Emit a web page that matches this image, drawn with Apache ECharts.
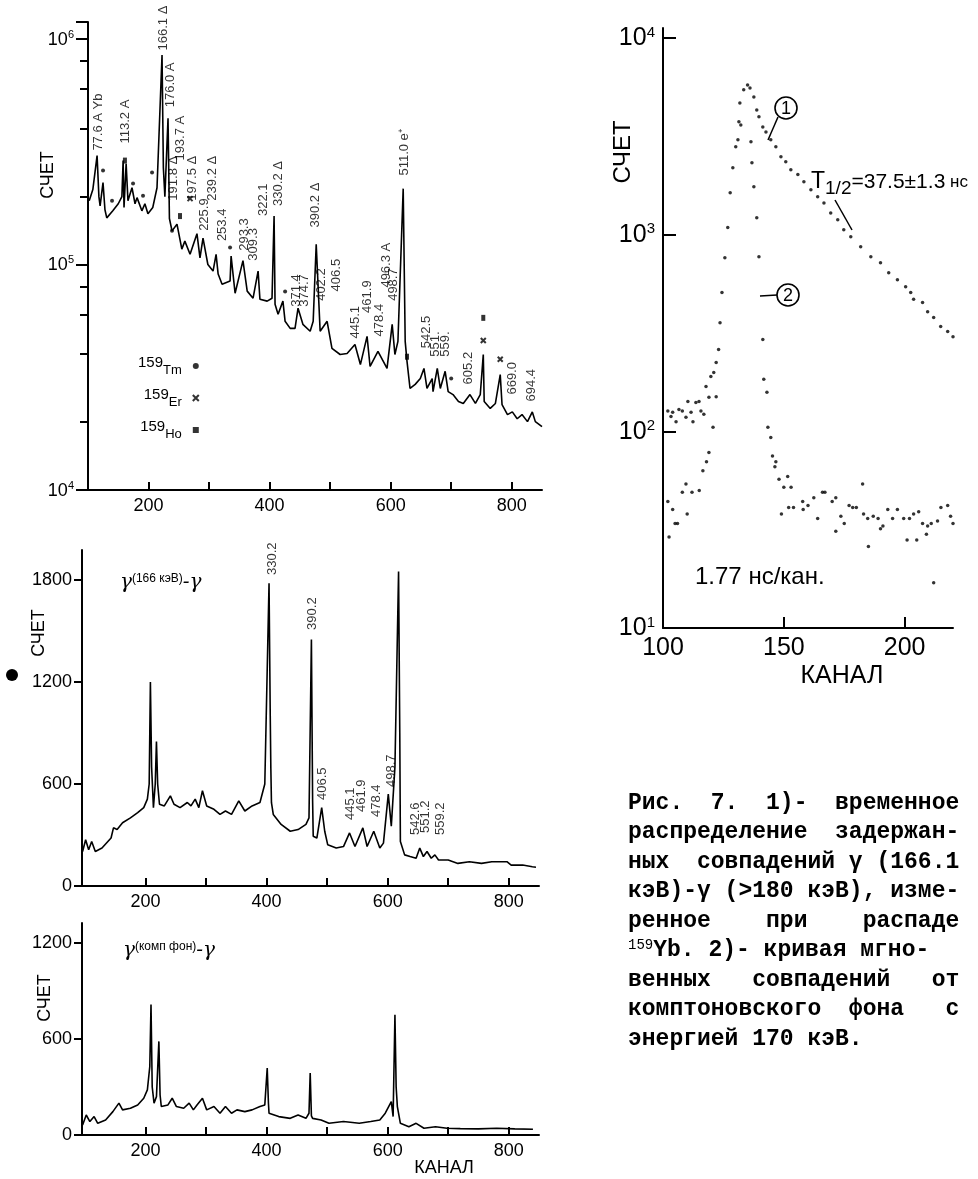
<!DOCTYPE html>
<html lang="ru">
<head>
<meta charset="UTF-8">
<title>Рис. 7</title>
<style>html,body{margin:0;padding:0;background:#fff}</style>
</head>
<body>
<div id="chart" style="width:978px;height:1179px"></div>
<script src="https://cdn.jsdelivr.net/npm/echarts@6/dist/echarts.min.js"></script>
<script>
// singles spectrum (top left), [channel, counts]
var singlesSpectrum = [
  [102,192000],[108,215000],[115,304000],[118,200000],[120,182000],[124.8,231000],[128,175000],[131,161000],
  [141,173000],[150,186000],[156,200000],[158,289000],[159.5,179000],[163,280000],[166,192000],[172.7,219000],
  [177.7,186000],[181,198000],[189,173000],[194,186000],[199,168000],[207,179000],[214,219000],[217.4,381000],
  [222.3,849000],[224.5,269000],[227,200000],[232.2,445000],[234.5,160000],[238.8,141000],[247,151000],[255,117000],
  [260,127000],[268.6,111000],[280,137000],[285,107000],[290,131000],[298,100000],[306.6,93500],[311.6,111000],
  [315,90700],[321.5,81800],[334.7,84500],[336.4,109000],[343,74600],[356,104000],[363,76200],[372.7,70900],
  [381,93500],[384,70200],[396,68800],[404,70900],[407.4,164000],[409,66700],[414,60200],[422,68800],
  [425.6,56000],[434,52100],[442,52100],[447,64000],[455,54300],[467,50600],[472,56000],[477,123000],
  [483.5,50600],[495,56000],[503,42500],[516.5,39900],[528,40300],[541,44200],[550,36000],[561,48000],
  [566,35300],[579,41200],[594,34600],[602.5,54300],[607,39900],[612,45600],[620.7,217000],[624,45600],
  [627,37200],[632,28200],[640.5,29400],[649,31200],[655,34600],[660,28200],[668.6,31200],[670,27300],
  [677,34600],[682,28200],[690,33600],[695,27300],[703,26500],[712,24700],[720,24200],[731,26500],
  [740,24200],[748,26500],[753,39900],[754.5,24700],[764.5,23000],[773,24200],[781,32500],[784,23900],
  [793,21600],[801,22200],[809,20700],[817,21600],[826,20100],[834,22200],[839,20100],[850,19100]
];
var tmMarks = [[124.8,261000],[139.7,192000],[174.4,229000],[190.9,202000],[205.8,256000],[238.8,141000],[334.7,119000],[425.6,76000],[700,31200]];
var erMarks = [[268.6,196000],[753,46000],[781,38000]];
var hoMarks = [[161,289000],[252,164000],[627,39000],[753,58000]];
var singlesPeakText = ['77.6 A Yb','113.2 A','166.1 Δ','176.0 A','191.8 Δ','193.7 A','197.5 Δ','225.9','239.2 Δ','253.4',
  '293.3','309.3','322.1','330.2 Δ','371.4','374.7','390.2 Δ','402.2','406.5','445.1','461.9','478.4','496.3 A','498.7',
  '511.0 e⁺','542.5','551.','559.','605.2','669.0','694.4'];
var singlesPeakCh = [116.5,161,224,235.5,240.5,252,272,293,305,321.5,358,374,389,414,444,457,475,485,510,541,561,581,592.5,604,622,659,673.5,690,728,801,832];
var singlesPeakAt = [320000,344000,890000,498000,192000,289000,192000,141000,192000,127000,115000,104000,164000,182000,65000,65000,146000,69000,76000,47000,61000,48000,79000,69000,248000,42500,39000,39000,29400,26500,24700];

// gate on 166 keV (middle left), [channel, counts]
var gate166Spectrum = [
  [96,203],[101,272],[106,213],[111,262],[117,203],[128,223],[143,282],[147,342],[153,332],[162,372],[175,401],
  [187,431],[197,461],[203,511],[206,600],[208,1200],[210,700],[213,461],[216,600],[218,850],[220,600],[223,481],
  [231,471],[241,530],[247,481],[257,461],[269,491],[275,471],[282,511],[288,461],[294,560],[301,471],[313,451],
  [323,421],[332,441],[342,421],[354,501],[364,441],[376,471],[389,491],[397,600],[404,1780],[406,1000],[407,690],
  [408,490],[411,421],[424,362],[439,322],[452,332],[465,362],[470,401],[474,1450],[476,500],[477,292],[483,282],
  [491,461],[496,322],[501,242],[515,223],[527,232],[537,312],[546,232],[559,342],[566,232],[577,322],[587,223],
  [593,252],[601,540],[606,352],[612,700],[618,1850],[620,900],[621,262],[628,183],[637,173],[647,163],[653,223],
  [659,173],[665,203],[672,163],[678,183],[684,153],[700,153],[716,133],[735,143],[755,133],[772,143],[797,143],
  [804,123],[823,123],[839,113],[845,110]
];
var gatePeakText = ['330.2','390.2','406.5','445.1','461.9','478.4','498.7','542.6','551.2','559.2'];
var gatePeakCh = [409,475,493,539,557,582,606,646,662,687];
var gatePeakAt = [1829,1506,506,388,435,406,582,300,312,300];

// compton background gate (bottom left)
var comptonSpectrum = [
  [96,63],[102,125],[108,84],[115,115],[121,73],[134,94],[146,146],[156,199],[162,157],[175,167],[187,188],
  [197,230],[203,282],[207,428],[209,815],[211,300],[214,199],[218,240],[222,585],[224,250],[226,178],[237,188],
  [244,230],[251,178],[263,167],[272,199],[279,157],[285,188],[294,230],[301,157],[313,178],[323,136],[332,178],
  [342,136],[351,157],[364,146],[376,157],[389,178],[397,188],[401,418],[403,200],[404,136],[420,115],[439,104],
  [452,125],[465,104],[470,136],[472,387],[474,120],[476,104],[490,94],[503,73],[527,84],[553,73],[572,84],
  [587,94],[596,136],[606,209],[609,115],[612,752],[614,300],[616,178],[621,73],[635,52],[647,73],[660,42],
  [679,52],[698,42],[720,40],[750,38],[780,42],[810,38],[840,36]
];

// time spectra (right), [channel, counts]
var delayedCounts = [
  [102,127],[103.3,119],[104,125],[105.4,112],[106.6,129],[108,127],[109.5,118],[110.3,142],[111.6,125],[112.4,112],
  [113.6,140],[114.9,142],[115.7,127],[116.9,122],[117.8,169],[119,149],[119.8,190],[121,199],[122,224],[123,261],
  [123.6,357],[124.4,508],[125.6,764],[126.8,1086],[127.8,1634],[128.9,2188],[130.1,2800],[131.8,4677],[133.4,5450],
  [135,5770],[136,5570],[137.6,5010],[138.8,4300],[139.7,3980],[141.3,3530],[142.6,3330],[144.6,3034],[146.7,2800],
  [148.8,2490],[150.8,2350],[152.9,2140],[155.8,2020],[158.3,1860],[161.2,1690],[164,1560],[166.6,1450],[169.4,1290],
  [172.3,1190],[174.8,1060],[177.7,977],[181.8,869],[186,773],[190,720],[193.4,641],[197,590],[200.4,544],
  [202.5,508],[203.7,470],[207.4,452],[209.5,406],[212,379],[214.9,341],[217.8,322],[220,303]
];
var promptCounts = [
  [102,44],[102.5,29],[104,40],[105,34],[106,34],[108,49],[109.5,54],[110,38],[112,49],[115,50],[116.5,63],[118,70],
  [119,78],[120.7,105],[122,150],[131,3034],[131.4,3750],[132.2,3615],[136.4,2970],[136.8,2320],[137.6,1750],
  [138.8,1220],[139.7,773],[141.3,293],[141.7,184],[143,158],[143.4,105],[144.6,93],[145.3,75],[146.3,66],[146.7,70],
  [148,57],[149,38],[150,52],[151.6,59],[152,41],[153,52],[154,41],[157.8,44],[158,40],[160,42],[162.4,46],[164,36],
  [166,49],[167,49],[170,44],[171.5,46],[171.5,31],[173.6,37],[175,34],[177,42],[178.5,41],[180,41],[182.6,54],
  [183,38],[184.7,36],[185,26],[187,37],[189,36],[190,32],[191,33],[193,40],[195,36],[197,40],[199.6,36],[201,28],
  [202,36],[203.7,38],[205,28],[205.8,39],[207.4,34],[209,30],[209.5,33],[211,34],[212,17],[213.6,35],[215,41],
  [217.8,42],[219,37],[220,34]
];

// ticks
var chTicks = [200,300,400,500,600,700,800];
var chLabels = [200,400,600,800];
var logMinor = [2e4,4e4,6e4,8e4,2e5,4e5,6e5,8e5];
var gateTicks = [0,600,1200,1800];
var comptonTicks = [0,600,1200];
var timeTicks = [150,200];
var timeLabels = [100,150,200];
var timeLogTicks = [10,100,1000,10000];

var captionLines = [
  'Рис.  7.  1)-  временное',
  'распределение  задержан-',
  'ных  совпадений γ (166.1',
  'кэВ)-γ (>180 кэВ), изме-',
  'ренное    при    распаде',
  '{s|159}Yb. 2)- кривая мгно-',
  'венных   совпадений   от',
  'комптоновского  фона   с',
  'энергией 170 кэВ.'
];

var BLACK = '#000';
var sans = 'Liberation Sans, Arial, sans-serif';
var narrow = 'Liberation Sans Narrow, Liberation Sans, sans-serif';

function pow10Label(v) {
  var e = Math.log10(v);
  if (Math.abs(e - Math.round(e)) > 1e-6) return '';
  return '{b|10}{s|' + Math.round(e) + '}';
}
function plainLabel(v) { return String(v); }
function chAxis(grid, min, max) {
  return {
    type: 'value', gridIndex: grid, min: min, max: max,
    axisLine: {lineStyle: {color: BLACK, width: 2}},
    axisTick: {inside: true, length: 8, customValues: chTicks, lineStyle: {color: BLACK, width: 2}},
    axisLabel: {customValues: chLabels, formatter: plainLabel, color: BLACK, fontSize: 18, fontFamily: sans, margin: 7},
    splitLine: {show: false}
  };
}
function countAxis(grid, max, ticks) {
  return {
    type: 'value', gridIndex: grid, min: 0, max: max,
    axisLine: {lineStyle: {color: BLACK, width: 2}},
    axisTick: {inside: false, length: 8, customValues: ticks, lineStyle: {color: BLACK, width: 2}},
    axisLabel: {customValues: ticks, formatter: plainLabel, color: BLACK, fontSize: 18, fontFamily: sans, margin: 10},
    splitLine: {show: false}
  };
}
function peakLabels(grid, text, ch, at) {
  return {
    type: 'scatter', xAxisIndex: grid, yAxisIndex: grid, silent: true,
    symbolSize: 1, itemStyle: {color: 'transparent'},
    data: text.map(function (t, i) { return {name: t, value: [ch[i], at[i]]}; }),
    label: {show: true, position: 'inside', rotate: 90, align: 'left', verticalAlign: 'middle',
      formatter: '{b}', color: BLACK, fontSize: 13, fontFamily: narrow}
  };
}

var chart = echarts.init(document.getElementById('chart'), null, {renderer: 'canvas'});

var gridBase = {containLabel: false, outerBoundsMode: 'none'};
var option = {
  animation: false,
  backgroundColor: '#fff',
  grid: [
    Object.assign({left: 88, top: 22, width: 454, height: 468}, gridBase),
    Object.assign({left: 82, top: 550, width: 457, height: 336}, gridBase),
    Object.assign({left: 82, top: 923, width: 457, height: 212}, gridBase),
    Object.assign({left: 663, top: 28, width: 290, height: 600}, gridBase)
  ],
  xAxis: [
    chAxis(0, 100, 850),
    chAxis(1, 95, 850),
    chAxis(2, 95, 850),
    {
      type: 'value', gridIndex: 3, min: 100, max: 220,
      axisLine: {lineStyle: {color: BLACK, width: 2}},
      axisTick: {inside: true, length: 11, customValues: timeTicks, lineStyle: {color: BLACK, width: 2}},
      axisLabel: {customValues: timeLabels, formatter: plainLabel, color: BLACK, fontSize: 25, fontFamily: narrow, margin: 8},
      splitLine: {show: false}
    }
  ],
  yAxis: [
    {
      type: 'log', logBase: 10, gridIndex: 0, min: 1e4, max: 1.19e6, position: 'left',
      axisLine: {lineStyle: {color: BLACK, width: 2}},
      axisTick: {inside: false, length: 12, lineStyle: {color: BLACK, width: 2}},
      axisLabel: {formatter: pow10Label, color: BLACK, margin: 14,
        rich: {b: {fontSize: 18, fontFamily: sans, lineHeight: 20, verticalAlign: 'bottom'},
               s: {fontSize: 11, fontFamily: sans, lineHeight: 20, verticalAlign: 'top', padding: [0, 0, 8, 0]}}},
      splitLine: {show: false}
    },
    countAxis(1, 1976, gateTicks),
    countAxis(2, 1325, comptonTicks),
    {
      type: 'log', logBase: 10, gridIndex: 3, min: 10, max: 11240,
      axisLine: {lineStyle: {color: BLACK, width: 2}},
      axisTick: {inside: true, length: 13, customValues: timeLogTicks, lineStyle: {color: BLACK, width: 2}},
      axisLabel: {customValues: timeLogTicks, formatter: pow10Label, color: BLACK, margin: 8,
        rich: {b: {fontSize: 25, fontFamily: narrow, lineHeight: 26, verticalAlign: 'bottom'},
               s: {fontSize: 15, fontFamily: narrow, lineHeight: 26, verticalAlign: 'top', padding: [0, 0, 10, 0]}}},
      splitLine: {show: false}
    },
    // minor ticks (2,4,6,8 per decade) for the top panel: a bare right axis shifted onto the left edge
    {
      type: 'log', logBase: 10, gridIndex: 0, min: 1e4, max: 1.19e6, position: 'right', offset: -454,
      axisLine: {show: false},
      axisTick: {inside: true, length: 8, customValues: logMinor, lineStyle: {color: BLACK, width: 2}},
      axisLabel: {show: false},
      splitLine: {show: false}
    }
  ],
  legend: {
    orient: 'vertical', left: 133, top: 350, align: 'right', itemGap: 10,
    itemWidth: 6, itemHeight: 6, selectedMode: false,
    data: ['Tm', 'Er', 'Ho'],
    formatter: function (n) { return '{n|159}{e|' + n + '}'; },
    textStyle: {color: BLACK, padding: [0, 6, 0, 0],
      rich: {n: {fontSize: 15, fontFamily: sans, lineHeight: 22, verticalAlign: 'top'},
             e: {fontSize: 13, fontFamily: sans, lineHeight: 22, verticalAlign: 'bottom'}}}
  },
  series: [
    {type: 'line', xAxisIndex: 0, yAxisIndex: 0, data: singlesSpectrum, showSymbol: false,
      lineStyle: {color: BLACK, width: 1.6}, silent: true},
    {name: 'Tm', type: 'scatter', xAxisIndex: 0, yAxisIndex: 0, data: tmMarks, symbol: 'circle', symbolSize: 4,
      itemStyle: {color: BLACK}},
    {name: 'Er', type: 'scatter', xAxisIndex: 0, yAxisIndex: 0, data: erMarks,
      symbol: 'path://M0,0L10,10M10,0L0,10', symbolSize: 5, itemStyle: {color: BLACK, borderColor: BLACK, borderWidth: 2}},
    {name: 'Ho', type: 'scatter', xAxisIndex: 0, yAxisIndex: 0, data: hoMarks, symbol: 'rect', symbolSize: [4, 6],
      itemStyle: {color: BLACK}},
    peakLabels(0, singlesPeakText, singlesPeakCh, singlesPeakAt),
    {type: 'line', xAxisIndex: 1, yAxisIndex: 1, data: gate166Spectrum, showSymbol: false, clip: false,
      lineStyle: {color: BLACK, width: 1.6}, silent: true},
    peakLabels(1, gatePeakText, gatePeakCh, gatePeakAt),
    {type: 'line', xAxisIndex: 2, yAxisIndex: 2, data: comptonSpectrum, showSymbol: false,
      lineStyle: {color: BLACK, width: 1.6}, silent: true},
    {type: 'scatter', xAxisIndex: 3, yAxisIndex: 3, data: delayedCounts, symbolSize: 3.5,
      itemStyle: {color: BLACK}, silent: true},
    {type: 'scatter', xAxisIndex: 3, yAxisIndex: 3, data: promptCounts, symbolSize: 3.5,
      itemStyle: {color: BLACK}, silent: true}
  ],
  graphic: []
};

// axis titles and annotations
var g = option.graphic;
function txt(x, y, text, font, extra) {
  var el = {type: 'text', x: x, y: y, silent: true,
    style: Object.assign({text: text, font: font, fill: BLACK, textAlign: 'center', textVerticalAlign: 'middle'}, extra || {})};
  return el;
}
[[48, 175], [39, 633], [45, 998]].forEach(function (p) {
  var t = txt(p[0], p[1], 'СЧЕТ', '18px ' + narrow);
  t.rotation = Math.PI / 2;
  g.push(t);
});
var rt = txt(623, 152, 'СЧЕТ', '24px ' + narrow);
rt.rotation = Math.PI / 2;
g.push(rt);
g.push(txt(842, 676, 'КАНАЛ', '25px ' + narrow));
g.push(txt(444, 1168, 'КАНАЛ', '18px ' + narrow));
g.push(txt(695, 577, '1.77 нс/кан.', '24px ' + narrow, {textAlign: 'left'}));
g.push(txt(120, 583, '{g|γ}{s|(166 кэВ)}{g|-γ}', '', {textAlign: 'left',
  rich: {g: {font: 'italic 20px DejaVu Serif', fill: BLACK}, s: {font: '12px ' + sans, fill: BLACK, padding: [0, 0, 8, 0]}}}));
g.push(txt(123, 951, '{g|γ}{s|(комп фон)}{g|-γ}', '', {textAlign: 'left',
  rich: {g: {font: 'italic 20px DejaVu Serif', fill: BLACK}, s: {font: '12px ' + sans, fill: BLACK, padding: [0, 0, 8, 0]}}}));
g.push(txt(811, 182, '{t|T}{u|1/2}{v|=37.5±1.3}{w| нс}', '', {textAlign: 'left',
  rich: {t: {font: '23px ' + narrow, fill: BLACK}, u: {font: '19px ' + narrow, fill: BLACK, padding: [14, 0, 0, 0]},
         v: {font: '21px ' + narrow, fill: BLACK}, w: {font: '17px ' + narrow, fill: BLACK}}}));
// circled curve numbers with leaders
[[786, 108, '1'], [788, 295, '2']].forEach(function (c) {
  g.push({type: 'circle', silent: true, shape: {cx: c[0], cy: c[1], r: 11},
    style: {fill: 'none', stroke: BLACK, lineWidth: 1.6}});
  g.push(txt(c[0], c[1] + 1, c[2], '18px ' + narrow));
});
g.push({type: 'line', silent: true, shape: {x1: 778, y1: 117, x2: 768, y2: 140}, style: {stroke: BLACK, lineWidth: 1.5}});
g.push({type: 'line', silent: true, shape: {x1: 760, y1: 296, x2: 777, y2: 295}, style: {stroke: BLACK, lineWidth: 1.5}});
g.push({type: 'line', silent: true, shape: {x1: 835, y1: 200, x2: 852, y2: 230}, style: {stroke: BLACK, lineWidth: 1.5}});
// stray punch mark on the page
g.push({type: 'circle', silent: true, shape: {cx: 12, cy: 675, r: 6}, style: {fill: BLACK}});
// caption
captionLines.forEach(function (line, i) {
  g.push(txt(628, 803 + i * 29.5, line, '', {textAlign: 'left',
    rich: {s: {font: '14px Liberation Mono', fill: BLACK, padding: [0, 0, 10, 0]}},
    font: 'bold 23px Liberation Mono, DejaVu Sans Mono, monospace'}));
});

chart.setOption(option);
</script>
</body>
</html>
